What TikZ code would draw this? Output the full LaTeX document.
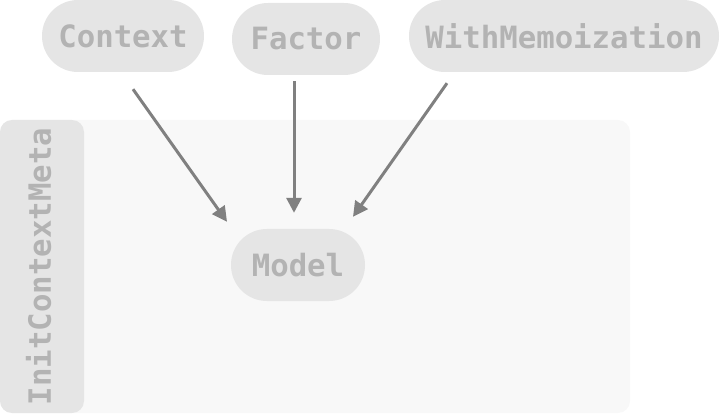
\documentclass[tikz,border=0pt]{standalone}
\usepackage{fontspec}
\setmonofont{DejaVu Sans Mono}
\usetikzlibrary{arrows.meta,calc}
\definecolor{boxfill}{HTML}{E5E5E5}
\definecolor{groupfill}{HTML}{F8F8F8}
\definecolor{labeltext}{HTML}{B3B3B3}
\definecolor{arrowcol}{HTML}{808080}
\tikzset{
  labelfont/.style={font=\fontsize{30.7}{31}\selectfont\ttfamily\bfseries},
  pill/.style={rectangle, fill=boxfill, rounded corners=35.9pt, minimum height=72pt,
    inner sep=0pt, text=labeltext, labelfont},
  conn/.style={draw=arrowcol, line width=3pt, -{Triangle[length=15pt,width=15pt]}},
}
\begin{document}
\begin{tikzpicture}[x=1pt,y=-1pt]
\useasboundingbox (0,0) rectangle (720,414);
\fill[groupfill, rounded corners=12pt] (0,120) rectangle (630,413);
\fill[boxfill, rounded corners=12pt] (0,120) rectangle (84,413);
\node[text=labeltext, labelfont, rotate=90, inner sep=0pt] (grp) at (38.5,266.5) {InitContextMeta};
\node[pill, minimum width=162pt] (ctx) at (123,36) {Context};
\node[pill, minimum width=148pt] (fac) at (306,39) {Factor};
\node[pill, minimum width=310pt] (wm) at (564,36) {WithMemoization};
\node[pill, minimum width=134pt] (model) at (298,265) {Model};
\draw[conn] ($(ctx.south)+(10,17)$) -- ($(model.north)+(-71,-7)$);
\draw[conn] ($(fac.south)+(-12,6)$) -- ($(model.north)+(-4,-16)$);
\draw[conn] ($(wm.south)+(-117,11)$) -- ($(model.north)+(55,-12)$);
\end{tikzpicture}
\end{document}
